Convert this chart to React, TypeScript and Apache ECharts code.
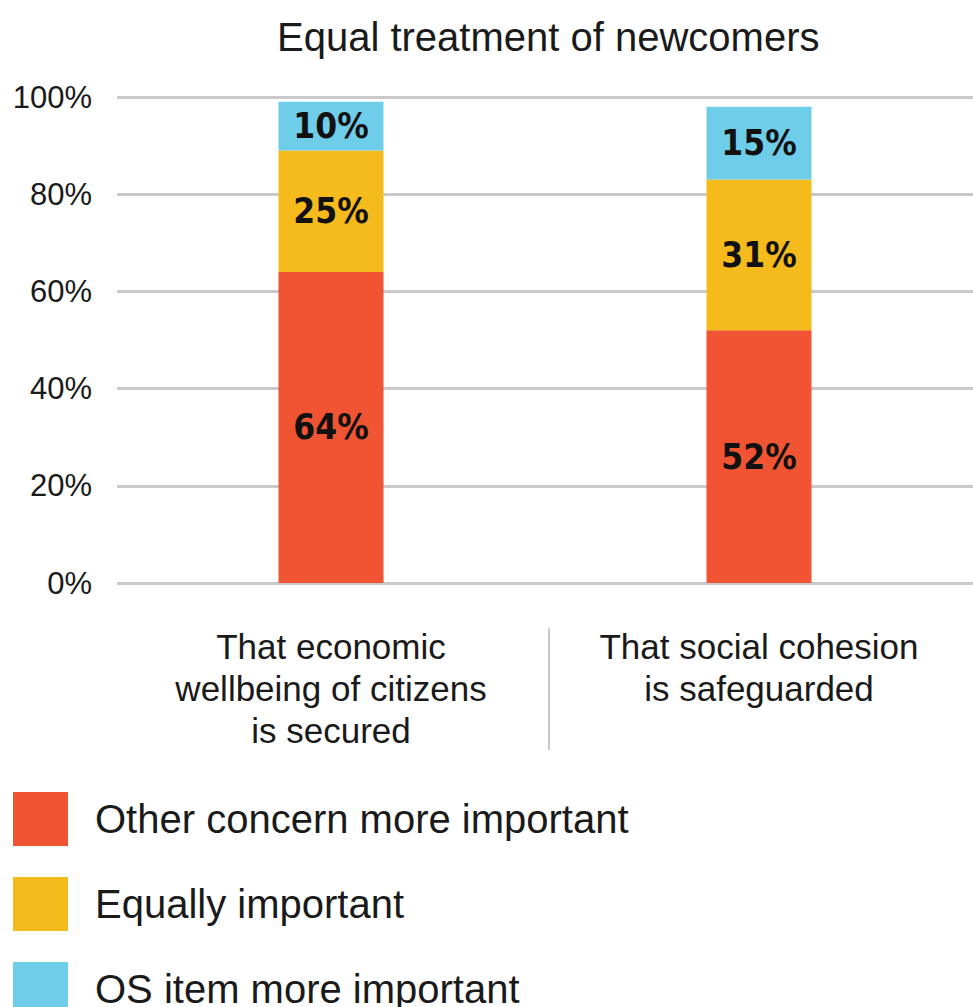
import React, { useEffect, useRef } from "react";
import * as echarts from "echarts";

const categories = [
  "That economic\nwellbeing of citizens\nis secured",
  "That social cohesion\nis safeguarded",
];
const seriesNames = [
  "Other concern more important",
  "Equally important",
  "OS item more important",
];
const otherConcern = [64, 52];
const equallyImportant = [25, 31];
const osItem = [10, 15];
const yTicks = [0, 20, 40, 60, 80, 100];

const COLORS = ["#F05432", "#F5BA1B", "#6ECDE9"];
const FONT = "'Liberation Sans', Arial, sans-serif";
const NARROW = "'Liberation Sans Narrow', 'DejaVu Sans Condensed', 'Liberation Sans', sans-serif";

export default function App() {
  const ref = useRef<HTMLDivElement>(null);
  useEffect(() => {
    document.body.style.margin = "0";
    const chart = echarts.init(ref.current!, undefined, { renderer: "svg" });
    const label = {
      show: true,
      position: "inside",
      formatter: "{c}%",
      color: "#111",
      fontFamily: NARROW,
      fontWeight: "bold",
      fontSize: 35,
    };
    const mk = (name: string, data: number[], color: string) => ({
      name,
      type: "bar",
      stack: "total",
      data,
      barWidth: 105,
      itemStyle: { color },
      label,
    });
    const legendTops = [792, 877, 962];
    const legends = seriesNames.map((n, i) => ({
      orient: "vertical",
      left: 13,
      top: legendTops[i],
      padding: 0,
      itemWidth: 55,
      itemHeight: 54,
      icon: "rect",
      textStyle: {
        fontFamily: FONT,
        fontSize: 40,
        color: "#1a1a1a",
        padding: [0, 0, 0, 22],
      },
      data: [n],
    }));
    chart.setOption({
      animation: false,
      title: {
        text: "Equal treatment of newcomers",
        left: 272,
        top: 12,
        textStyle: { fontFamily: FONT, fontSize: 40, fontWeight: "normal", color: "#1a1a1a" },
      },
      legend: legends,
      grid: { left: 117, right: 0, top: 97, bottom: 1007 - 583 },
      xAxis: {
        type: "category",
        data: categories,
        axisLine: { show: false },
        axisTick: { show: false },
        axisLabel: {
          fontFamily: FONT,
          fontSize: 35,
          lineHeight: 42,
          color: "#1a1a1a",
          margin: 42,
          interval: 0,
        },
      },
      yAxis: {
        type: "value",
        min: yTicks[0],
        max: yTicks[yTicks.length - 1],
        interval: 20,
        axisLabel: {
          formatter: "{value}%",
          fontFamily: FONT,
          fontSize: 31,
          color: "#1a1a1a",
          margin: 25,
        },
        splitLine: { lineStyle: { color: "#C9C9C9", width: 3 } },
      },
      graphic: [
        {
          type: "line",
          shape: { x1: 549, y1: 628, x2: 549, y2: 750 },
          style: { stroke: "#C9C9C9", lineWidth: 2 },
        },
      ],
      series: [
        mk(seriesNames[0], otherConcern, COLORS[0]),
        mk(seriesNames[1], equallyImportant, COLORS[1]),
        mk(seriesNames[2], osItem, COLORS[2]),
      ],
    });
    return () => chart.dispose();
  }, []);
  return <div ref={ref} style={{ width: 973, height: 1007 }} />;
}
